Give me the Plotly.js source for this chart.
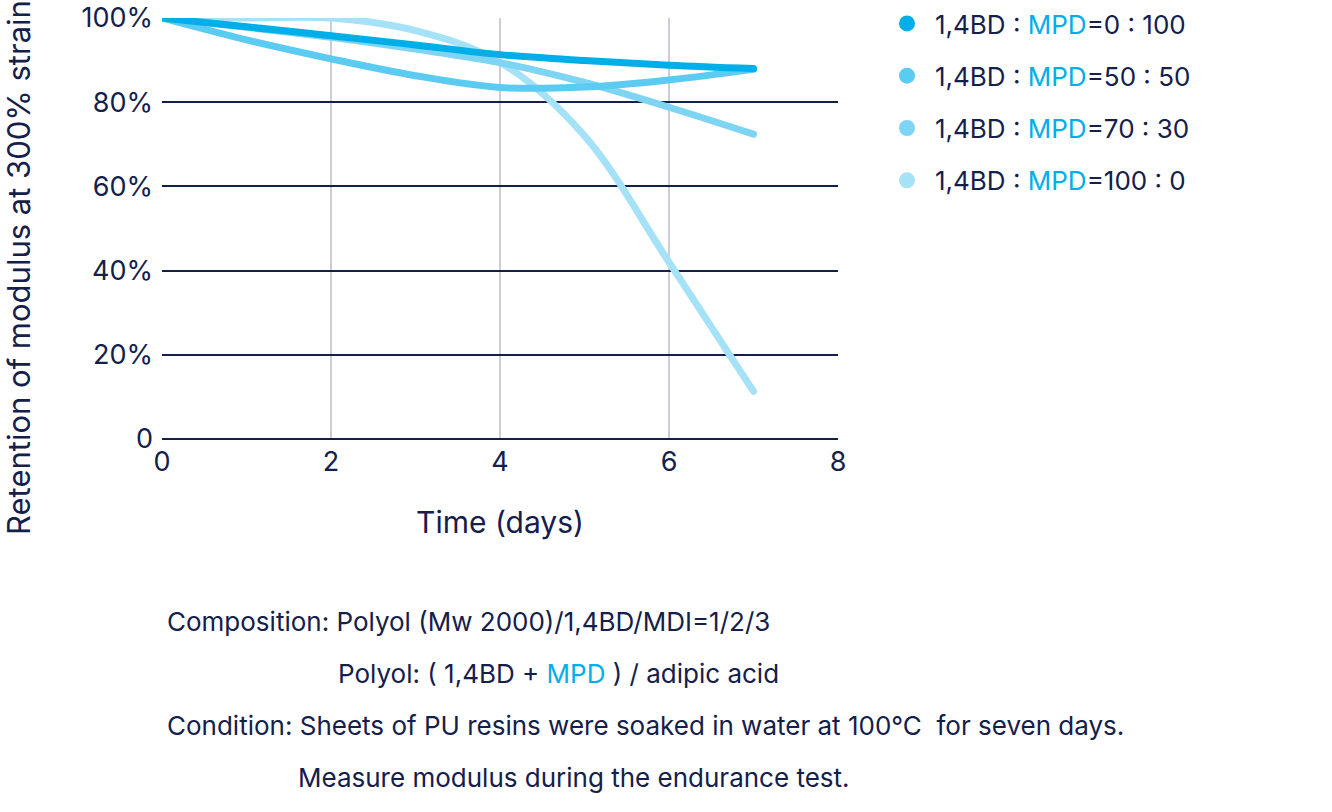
<!DOCTYPE html>
<html>
<head>
<meta charset="utf-8">
<script src="https://cdn.plot.ly/plotly-3.0.1.min.js"></script>
<style>
  body { margin: 0; background: #fff; }
  #chart { width: 1332px; height: 812px; }
  .scatterlayer path.js-line { stroke-linecap: round; stroke-linejoin: round; }
</style>
</head>
<body>
<div id="chart"></div>
<script>
// values, retention in %
const days = [0, 1, 2, 3, 4, 5, 6, 7];
const mpd100 = [100, 97.9, 95.8, 93.6, 91.3, 89.9, 88.8, 88.0];   // 1,4BD:MPD = 0:100
const mpd50  = [100, 94.8, 90.3, 86.3, 83.5, 83.6, 85.3, 87.8];   // 50:50
const mpd30  = [100, 97.8, 95.4, 92.6, 89.4, 84.7, 78.8, 72.4];   // 70:30
const mpd0   = [100, 100, 100, 97.0, 89.5, 72.0, 42.0, 11.3];     // 100:0

const seriesNames = ['0 : 100', '50 : 50', '70 : 30', '100 : 0'];
const seriesColors = ['#00aee8', '#5bcbf1', '#7dd4f3', '#a5e1f7'];
const seriesValues = [mpd100, mpd50, mpd30, mpd0];

const yTicks = [0, 20, 40, 60, 80, 100];
const yTickText = ['0', '20%', '40%', '60%', '80%', '100%'];
const xTicks = [0, 2, 4, 6, 8];

const navy = '#14204a';
const blue = '#00aee8';
const fontFam = 'Inter, "Noto Sans", sans-serif';

function legendName(s) {
  return '1,4BD : <span style="color:' + blue + '">MPD</span>=' + s;
}

let traces = [];
// lines, lightest drawn first so the darkest sits on top
for (let i = seriesValues.length - 1; i >= 0; i--) {
  traces.push({
    type: 'scatter', mode: 'lines',
    x: days, y: seriesValues[i],
    line: {color: seriesColors[i], width: 7, shape: 'spline', smoothing: 1},
    cliponaxis: false,
    showlegend: false, hoverinfo: 'skip'
  });
}
// legend dots
for (let i = 0; i < seriesValues.length; i++) {
  traces.push({
    type: 'scatter', mode: 'markers',
    x: [null], y: [null],
    name: legendName(seriesNames[i]),
    legendgroup: 'g' + i,
    marker: {color: seriesColors[i], size: 18},
    showlegend: true
  });
}

const ann = (text, xpx, ypx, extra) => Object.assign({
  text: text, xref: 'paper', yref: 'paper',
  x: (xpx - 162) / 676, y: (439 - ypx) / 421,
  xanchor: 'left', yanchor: 'middle', showarrow: false,
  font: {family: fontFam, size: 26, color: navy}
}, extra || {});

let layout = {
  width: 1332, height: 812,
  margin: {l: 162, r: 494, t: 18, b: 373},
  paper_bgcolor: '#fff', plot_bgcolor: '#fff',
  font: {family: fontFam, color: navy, size: 26},
  showlegend: true,
  legend: {
    xref: 'container', yref: 'container',
    x: 879 / 1332, y: 1,
    xanchor: 'left', yanchor: 'top',
    traceorder: 'grouped', tracegroupgap: 15.5,
    itemwidth: 46,
    font: {family: fontFam, size: 26, color: navy}
  },
  xaxis: {
    range: [0, 8], tickvals: xTicks,
    showgrid: true, gridcolor: '#c9ced8', gridwidth: 1.5,
    zeroline: false, showline: false, ticks: '', ticklabelstandoff: 4,
    tickfont: {family: fontFam, size: 27, color: navy},
    title: {text: 'Time (days)', standoff: 34, font: {family: fontFam, size: 30, color: navy}}
  },
  yaxis: {
    range: [0, 100], tickvals: yTicks, ticktext: yTickText,
    showgrid: true, gridcolor: navy, gridwidth: 2,
    zeroline: true, zerolinecolor: navy, zerolinewidth: 2.5,
    showline: false, ticks: '', ticklabelstandoff: 8,
    tickfont: {family: fontFam, size: 27, color: navy}
  },
  annotations: [
    ann('Retention of modulus at 300% strain', 18, 268,
        {textangle: -90, xanchor: 'center', yanchor: 'middle', font: {family: fontFam, size: 31, color: navy}}),
    ann('Composition: Polyol (Mw 2000)/1,4BD/MDI=1/2/3', 165, 621),
    ann('Polyol: ( 1,4BD + <span style="color:' + blue + '">MPD</span> ) / adipic acid', 336, 673),
    ann('Condition: Sheets of PU resins were soaked in water at 100°C  for seven days.', 165, 725),
    ann('Measure modulus during the endurance test.', 296, 777)
  ]
};

Plotly.newPlot('chart', traces, layout, {displayModeBar: false, staticPlot: true});
</script>
</body>
</html>
